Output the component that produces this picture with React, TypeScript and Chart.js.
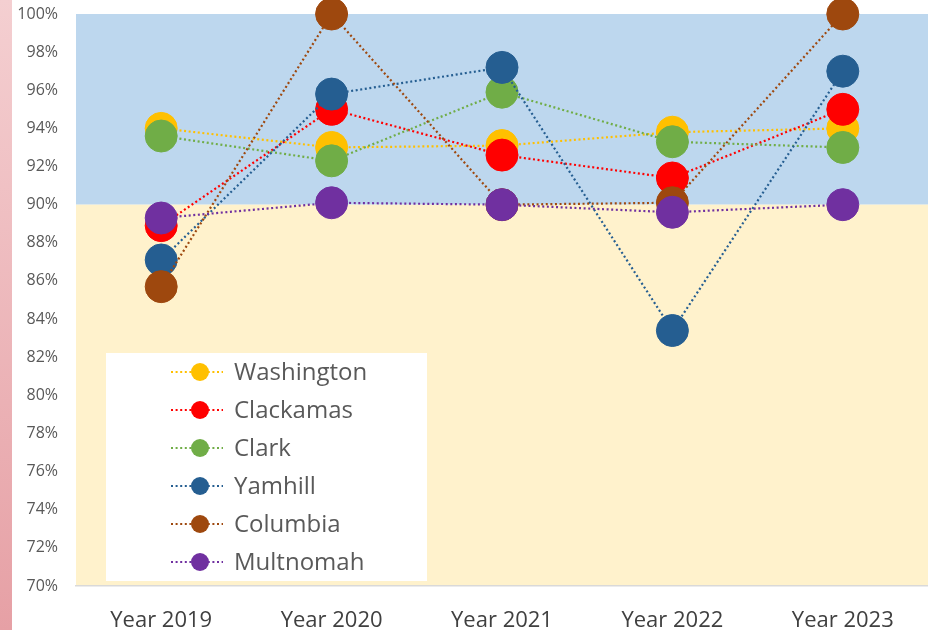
import React, { useEffect, useRef } from "react";
import { Chart, registerables } from "chart.js";

Chart.register(...registerables);

const categories = ["Year 2019", "Year 2020", "Year 2021", "Year 2022", "Year 2023"];
const seriesNames = ["Washington", "Clackamas", "Clark", "Yamhill", "Columbia", "Multnomah"];
const washington = [94.0, 93.0, 93.1, 93.8, 94.0];
const clackamas = [88.9, 95.0, 92.6, 91.4, 95.0];
const clark = [93.6, 92.3, 95.9, 93.3, 93.0];
const yamhill = [87.1, 95.8, 97.2, 83.4, 97.0];
const columbia = [85.7, 100, 90.0, 90.1, 100];
const multnomah = [89.3, 90.1, 90.0, 89.6, 90.0];
const seriesValues = [washington, clackamas, clark, yamhill, columbia, multnomah];
const seriesColors = ["#FFC000", "#FF0000", "#70AD47", "#255E91", "#9E480E", "#7030A0"];
const yMin = 70;
const yMax = 100;
const yStep = 2;
const bandSplit = 90;

const FONT = "'Open Sans', 'Noto Sans', sans-serif";

const backgroundPlugin = {
  id: "bgBands",
  beforeDraw(chart: any) {
    const { ctx, chartArea, scales } = chart;
    const y = scales.y;
    ctx.save();
    const g = ctx.createLinearGradient(0, 0, 0, chart.height);
    g.addColorStop(0, "#f4cfd1");
    g.addColorStop(1, "#e6a0a5");
    ctx.fillStyle = g;
    ctx.fillRect(0, 0, 12, chart.height);
    const ySplit = y.getPixelForValue(bandSplit);
    const yTop = y.getPixelForValue(yMax);
    const yBot = y.getPixelForValue(yMin);
    ctx.fillStyle = "#BDD7EE";
    ctx.fillRect(chartArea.left, yTop, chartArea.right - chartArea.left, ySplit - yTop);
    ctx.fillStyle = "#FFF2CC";
    ctx.fillRect(chartArea.left, ySplit, chartArea.right - chartArea.left, yBot - ySplit);
    ctx.restore();
  },
};

const legendPlugin = {
  id: "innerLegend",
  afterDraw(chart: any) {
    const { ctx, chartArea } = chart;
    const left = chartArea.left + 30;
    const top = chartArea.top + 339;
    const w = 321;
    const h = 228;
    ctx.save();
    ctx.fillStyle = "#ffffff";
    ctx.fillRect(left, top, w, h);
    seriesNames.forEach((name, i) => {
      const cy = top + 19 + i * 38;
      const color = seriesColors[i];
      ctx.strokeStyle = color;
      ctx.lineWidth = 2;
      ctx.setLineDash([2, 2.6]);
      ctx.beginPath();
      ctx.moveTo(left + 65, cy);
      ctx.lineTo(left + 117, cy);
      ctx.stroke();
      ctx.setLineDash([]);
      ctx.fillStyle = color;
      ctx.beginPath();
      ctx.arc(left + 94, cy, 9, 0, Math.PI * 2);
      ctx.fill();
      ctx.fillStyle = "#595959";
      ctx.font = "24px " + FONT;
      ctx.textBaseline = "middle";
      ctx.textAlign = "left";
      ctx.fillText(name, left + 128, cy + 1);
    });
    ctx.restore();
  },
};

export default function App() {
  const ref = useRef<HTMLCanvasElement | null>(null);
  useEffect(() => {
    document.body.style.margin = "0";
    const canvas = ref.current;
    if (!canvas) return;
    const n = seriesNames.length;
    const chart = new Chart(canvas, {
      type: "line",
      data: {
        labels: categories,
        datasets: seriesNames.map((name, i) => ({
          label: name,
          data: seriesValues[i],
          borderColor: seriesColors[i],
          backgroundColor: seriesColors[i],
          pointBackgroundColor: seriesColors[i],
          pointBorderColor: seriesColors[i],
          pointBorderWidth: 1,
          pointRadius: 16,
          pointHoverRadius: 16,
          borderWidth: 2.2,
          borderDash: [2, 2.6],
          tension: 0,
          fill: false,
          clip: false as any,
          order: n - i,
        })),
      },
      options: {
        animation: false,
        responsive: false,
        maintainAspectRatio: false,
        events: [],
        layout: { autoPadding: false, padding: { top: 14, left: 0, right: 0, bottom: 0 } },
        plugins: {
          legend: { display: false },
          tooltip: { enabled: false },
          title: { display: false },
        },
        scales: {
          x: {
            type: "category",
            offset: true,
            grid: { display: false, drawTicks: false },
            border: { display: true, color: "#d9d9d9", width: 1.5 },
            ticks: {
              color: "#404040",
              font: { family: FONT, size: 22 },
              padding: 22,
              maxRotation: 0,
              autoSkip: false,
            },
            afterFit(scale: any) {
              scale.height = 44;
            },
          },
          y: {
            min: yMin,
            max: yMax,
            grid: { display: false, drawTicks: false },
            border: { display: false },
            ticks: {
              stepSize: yStep,
              color: "#595959",
              font: { family: FONT, size: 16 },
              padding: 18,
              callback: (v: any) => `${v}%`,
            },
            afterFit(scale: any) {
              scale.width = 76;
              scale.paddingTop = 0;
              scale.paddingBottom = 0;
            },
          },
        },
      },
      plugins: [backgroundPlugin, legendPlugin],
    });
    return () => chart.destroy();
  }, []);
  return (
    <div style={{ position: "absolute", left: 0, top: 0, width: 928, height: 630, background: "#ffffff" }}>
      <canvas ref={ref} width={928} height={630} style={{ display: "block", width: 928, height: 630 }} />
    </div>
  );
}
